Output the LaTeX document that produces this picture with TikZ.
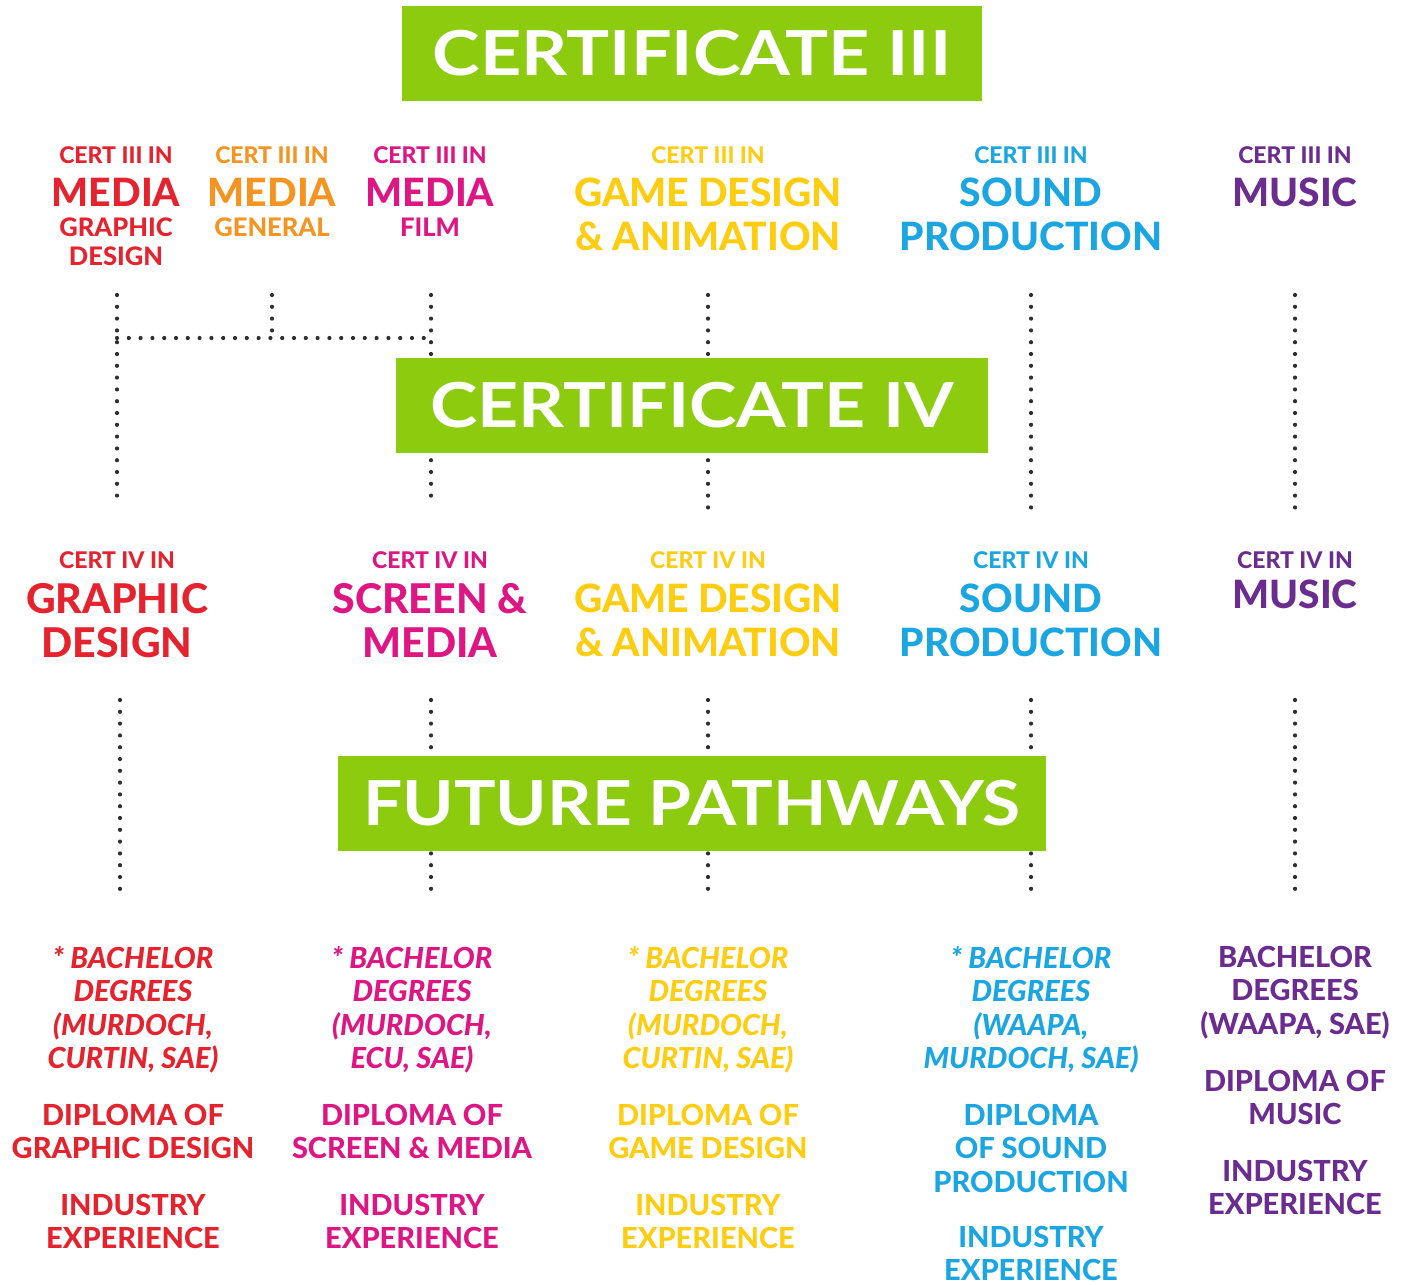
\documentclass[tikz,border=0pt]{standalone}
\usepackage{graphicx}
\usepackage{fontspec}
\setmainfont{Lato}[BoldFont={Lato Heavy}, BoldItalicFont={Lato Heavy Italic}]
\newfontfamily\bannerfont{Lato}
\definecolor{bgreen}{HTML}{8CCB0E}
\definecolor{cred}{HTML}{E5232E}
\definecolor{corange}{HTML}{F59420}
\definecolor{cmag}{HTML}{DE1683}
\definecolor{cyellow}{HTML}{FDCD12}
\definecolor{cblue}{HTML}{1BA6E2}
\definecolor{cpurple}{HTML}{6A2C8F}
\definecolor{dotgray}{HTML}{2E2E2E}
\tikzset{
  banner/.style={fill=bgreen, text=white, inner sep=0pt, minimum height=95pt,
    font=\fontsize{62}{62}\selectfont\bannerfont\bfseries},
  txt/.style={inner sep=0pt, anchor=north, align=center},
  hsmall/.style={txt, font=\fontsize{23}{26}\selectfont\bfseries},
  hbig/.style={txt, font=\fontsize{39}{44}\selectfont\bfseries},
  hsub/.style={txt, font=\fontsize{25.5}{29}\selectfont\bfseries},
  hbigb/.style={txt, font=\fontsize{41}{44}\selectfont\bfseries},
  path/.style={txt, font=\fontsize{29}{33.5}\selectfont\bfseries},
  pathit/.style={txt, font=\fontsize{29}{33.5}\selectfont\bfseries\itshape},
  dotline/.style={draw=dotgray, line width=4.2pt, line cap=round, dash pattern=on 0pt off 11.8pt}
}
\begin{document}
\begin{tikzpicture}[x=1pt,y=-1pt]
\useasboundingbox (0,0) rectangle (1414,1285);
% connector end points
\coordinate (a1) at (117,295); \coordinate (a1b) at (117,500);
\coordinate (a1m) at (117,338); \coordinate (a3m) at (431,338);
\coordinate (a2) at (272,295); \coordinate (a2b) at (272,338);
\coordinate (a3) at (431,295); \coordinate (a3b) at (431,500);
\coordinate (a4) at (708,295); \coordinate (a4b) at (708,510);
\coordinate (a5) at (1031,295); \coordinate (a5b) at (1031,510);
\coordinate (a6) at (1295,295); \coordinate (a6b) at (1295,510);
\coordinate (b1) at (120,700); \coordinate (b1b) at (120,900);
\coordinate (b2) at (431,700); \coordinate (b2b) at (431,900);
\coordinate (b3) at (708,700); \coordinate (b3b) at (708,900);
\coordinate (b4) at (1031,700); \coordinate (b4b) at (1031,900);
\coordinate (b5) at (1295,700); \coordinate (b5b) at (1295,900);
\draw[dotline] (a1) -- (a1b);
\draw[dotline] (a1m) -- (a3m);
\draw[dotline] (a2) -- (a2b);
\draw[dotline] (a3) -- (a3b);
\draw[dotline] (a4) -- (a4b);
\draw[dotline] (a5) -- (a5b);
\draw[dotline] (a6) -- (a6b);
\draw[dotline] (b1) -- (b1b);
\draw[dotline] (b2) -- (b2b);
\draw[dotline] (b3) -- (b3b);
\draw[dotline] (b4) -- (b4b);
\draw[dotline] (b5) -- (b5b);
% banners
\node[banner, minimum width=580pt] (cert3) at (692,53.5) {\scalebox{1.16}[1]{CERTIFICATE III}};
\node[banner, minimum width=592pt] (cert4) at (692,405.5) {\scalebox{1.155}[1]{CERTIFICATE IV}};
\node[banner, minimum width=708pt] (future) at (692,803.5) {\scalebox{1.12}[1]{FUTURE PATHWAYS}};
% row 1
\node[hsmall, text=cred] (r1h1) at (116,146) {CERT III IN};
\node[hsmall, text=corange] (r1h2) at (272,146) {CERT III IN};
\node[hsmall, text=cmag] (r1h3) at (430,146) {CERT III IN};
\node[hsmall, text=cyellow] (r1h4) at (708,146) {CERT III IN};
\node[hsmall, text=cblue] (r1h5) at (1031,146) {CERT III IN};
\node[hsmall, text=cpurple] (r1h6) at (1295,146) {CERT III IN};
\node[hbig, text=cred] (r1b1) at (116,178) {MEDIA};
\node[hbig, text=corange] (r1b2) at (272,178) {MEDIA};
\node[hbig, text=cmag] (r1b3) at (430,178) {MEDIA};
\node[hbig, text=cyellow] (r1b4) at (708,178) {GAME DESIGN\\\& ANIMATION};
\node[hbig, text=cblue] (r1b5) at (1031,178) {SOUND\\PRODUCTION};
\node[hbig, text=cpurple] (r1b6) at (1295,178) {MUSIC};
\node[hsub, text=cred] (r1s1) at (116,218) {GRAPHIC\\DESIGN};
\node[hsub, text=corange] (r1s2) at (272,218) {GENERAL};
\node[hsub, text=cmag] (r1s3) at (430,218) {FILM};
% row 2
\node[hsmall, text=cred] (r2h1) at (117,551) {CERT IV IN};
\node[hsmall, text=cmag] (r2h2) at (430,551) {CERT IV IN};
\node[hsmall, text=cyellow] (r2h3) at (708,551) {CERT IV IN};
\node[hsmall, text=cblue] (r2h4) at (1031,551) {CERT IV IN};
\node[hsmall, text=cpurple] (r2h5) at (1295,551) {CERT IV IN};
\node[hbigb, text=cred] (r2b1) at (117,583) {GRAPHIC\\DESIGN};
\node[hbigb, text=cmag] (r2b2) at (430,583) {SCREEN \&\\MEDIA};
\node[hbig, text=cyellow] (r2b3) at (708,584) {GAME DESIGN\\\& ANIMATION};
\node[hbig, text=cblue] (r2b4) at (1031,584) {SOUND\\PRODUCTION};
\node[hbig, text=cpurple] (r2b5) at (1295,580) {MUSIC};
% row 3
\node[pathit, text=cred] (p1a) at (133,946) {* BACHELOR\\DEGREES\\(MURDOCH,\\CURTIN, SAE)};
\node[path, text=cred] (p1b) at (133,1104) {DIPLOMA OF\\GRAPHIC DESIGN};
\node[path, text=cred] (p1c) at (133,1194) {INDUSTRY\\EXPERIENCE};
\node[pathit, text=cmag] (p2a) at (412,946) {* BACHELOR\\DEGREES\\(MURDOCH,\\ECU, SAE)};
\node[path, text=cmag] (p2b) at (412,1104) {DIPLOMA OF\\SCREEN \& MEDIA};
\node[path, text=cmag] (p2c) at (412,1194) {INDUSTRY\\EXPERIENCE};
\node[pathit, text=cyellow] (p3a) at (708,946) {* BACHELOR\\DEGREES\\(MURDOCH,\\CURTIN, SAE)};
\node[path, text=cyellow] (p3b) at (708,1104) {DIPLOMA OF\\GAME DESIGN};
\node[path, text=cyellow] (p3c) at (708,1194) {INDUSTRY\\EXPERIENCE};
\node[pathit, text=cblue] (p4a) at (1031,946) {* BACHELOR\\DEGREES\\(WAAPA,\\MURDOCH, SAE)};
\node[path, text=cblue] (p4b) at (1031,1104) {DIPLOMA\\OF SOUND\\PRODUCTION};
\node[path, text=cblue] (p4c) at (1031,1226) {INDUSTRY\\EXPERIENCE};
\node[path, text=cpurple] (p5a) at (1295,946) {BACHELOR\\DEGREES\\(WAAPA, SAE)};
\node[path, text=cpurple] (p5b) at (1295,1070) {DIPLOMA OF\\MUSIC};
\node[path, text=cpurple] (p5c) at (1295,1160) {INDUSTRY\\EXPERIENCE};
\end{tikzpicture}
\end{document}
